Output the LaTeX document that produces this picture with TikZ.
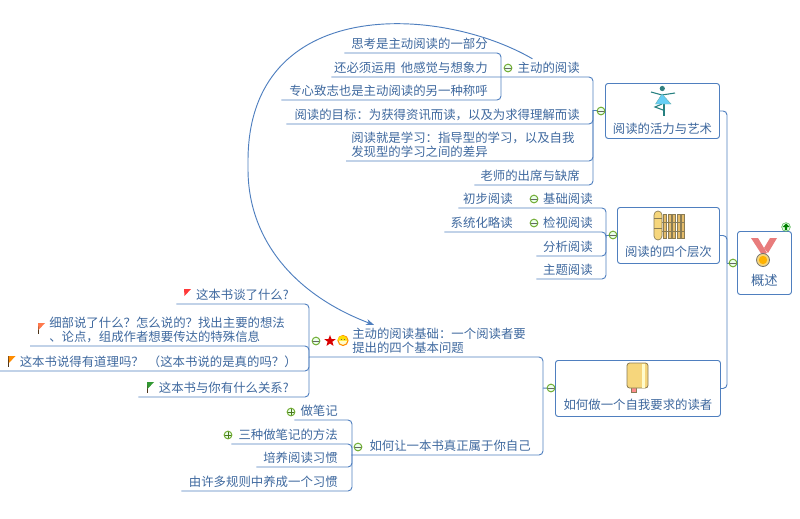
\documentclass[tikz,border=0pt]{standalone}
\usepackage{fontspec}
\usetikzlibrary{calc,arrows.meta,shapes.geometric}
\setmainfont{Noto Sans CJK SC}

\definecolor{linkblue}{HTML}{4F7FBF}
\definecolor{textblue}{HTML}{3E689E}
\definecolor{foldgreen}{HTML}{6AA82A}
\definecolor{iconline}{HTML}{8A7C55}
\definecolor{iconfill}{HTML}{F6D67C}
\definecolor{ribbon}{HTML}{E87C7C}

\tikzset{
  link/.style={draw=linkblue,line width=0.7pt,rounded corners=3pt},
  leaf/.style={font=\fontsize{9.3pt}{10.5pt}\selectfont,text=textblue,inner xsep=0pt,inner ysep=2.3pt,
    align=right,text width=#1*0.75pt,anchor=south east},
  leafleft/.style={leaf=#1,align=left,anchor=south west},
  box/.style={draw=linkblue,line width=0.7pt,rounded corners=2pt,fill=white,anchor=north west,
    font=\fontsize{9.3pt}{10.5pt}\selectfont,text=textblue,inner sep=0pt},
  fold/.style={circle,draw=foldgreen,fill=green!8,line width=0.7pt,inner sep=0pt,minimum size=5.8pt},
  minus/.style={fold,path picture={\draw[black!60,line width=0.5pt]
    (path picture bounding box.west) -- (path picture bounding box.east);}},
  plus/.style={minus,path picture={\draw[foldgreen!70!black,line width=0.6pt]
    (path picture bounding box.west) -- (path picture bounding box.east)
    (path picture bounding box.north) -- (path picture bounding box.south);}},
}

\newcommand{\flagmark}[3]{%
  \draw[black!60!brown,line width=0.6pt] (#1,#2) -- +(0,11);
  \fill[#3] (#1,#2) -- +(7,0) -- +(0.5,7) -- cycle;}

\begin{document}
\begin{tikzpicture}[x=0.75pt,y=-0.75pt]
  \useasboundingbox (0,0) rectangle (800,518);

  % Central topic and main branches
  \node[box,minimum width=40.5pt,text height=40.85pt,text depth=6.4pt,font=\fontsize{10pt}{12pt}\selectfont] (root) at (737,231) {概述};
  \node[box,minimum width=85.5pt,text height=37.25pt,text depth=4pt] (art) at (605,83) {阅读的活力与艺术};
  \node[box,minimum width=76.5pt,text height=37.1pt,text depth=4.9pt] (levels) at (617,207) {阅读的四个层次};
  \node[box,minimum width=123.75pt,text height=37.1pt,text depth=4.9pt] (reader) at (555,360) {如何做一个自我要求的读者};

  % Active reading
  \node[leaf=143] (think) at (488,53) {思考是主动阅读的一部分};
  \node[leaf=156] (sense) at (488,77) {还必须运用\hspace{0.5pt} 他感觉与想象力};
  \node[leaf=206] (focus) at (488,100) {专心致志也是主动阅读的另一种称呼};
  \node[leaf=64] (active) at (580,77) {主动的阅读};
  \node[leaf=293] (goal) at (580,124) {阅读的目标：为获得资讯而读，以及为求得理解而读};
  \node[leafleft=226] (study) at (351,161) {阅读就是学习：指导型的学习，以及自我\\发现型的学习之间的差异};
  \node[leaf=105] (teacher) at (580,185) {老师的出席与缺席};
  \coordinate (tfocus) at (501,77);
  \coordinate (tart) at (593,110);

  \draw[link] (think.south west) -| (tfocus);
  \draw[link] (focus.south west) -| (tfocus);
  \draw[link] (sense.south west) -| (tart);
  \draw[link] (goal.south west) -| (tart);
  \draw[link] ($(study.south west)+(-5,0)$) -| (tart);
  \draw[link] (teacher.south west) -| (tart);
  \draw[link] (tart) -- (tart -| art.west);

  % Four levels
  \node[leaf=54] (inspect1) at (513,208) {初步阅读};
  \node[leaf=52] (basic) at (593,208) {基础阅读};
  \node[leaf=68] (inspect2) at (513,232) {系统化略读};
  \node[leaf=52] (scan) at (593,232) {检视阅读};
  \node[leaf=56] (analyse) at (593,256) {分析阅读};
  \node[leaf=56] (topic) at (593,279) {主题阅读};
  \coordinate (tlevels) at (606,235);

  \draw[link] (inspect1.south west) -| (tlevels);
  \draw[link] (inspect2.south west) -| (tlevels);
  \draw[link] (analyse.south west) -| (tlevels);
  \draw[link] (topic.south west) -| (tlevels);
  \draw[link] (tlevels) -- (levels.west |- tlevels);

  % Four questions
  \node[leaf=112] (what) at (289,304) {这本书谈了什么?};
  \node[leafleft=245] (detail) at (49,346) {细部说了什么？怎么说的？找出主要的想法\\、论点，组成作者想要传达的特殊信息};
  \node[leaf=297] (right) at (297,371) {这本书说得有道理吗？ （这本书说的是真的吗？）};
  \node[leaf=150] (you) at (289,397) {这本书与你有什么关系?};
  \node[leafleft=180] (basis) at (352,357) {主动的阅读基础：一个阅读者要\\提出的四个基本问题};
  \coordinate (tbasis) at (309,357);
  \coordinate (treader) at (543,388);

  \draw[link] (what.south west) -| (tbasis);
  \draw[link] ($(detail.south west)+(-19,0)$) -| (tbasis);
  \draw[link] (right.south west) -| (tbasis);
  \draw[link] (you.south west) -| (tbasis);
  \draw[link] (tbasis) -| (treader);
  \draw[link] (treader) -- (reader.west);

  % Owning a book
  \node[leaf=179] (own) at (531,455) {如何让一本书真正属于你自己};
  \node[leaf=43] (notes) at (338,420) {做笔记};
  \node[leaf=106] (ways) at (338,444) {三种做笔记的方法};
  \node[leaf=81] (habit) at (338,467) {培养阅读习惯};
  \node[leaf=156] (rules) at (338,491) {由许多规则中养成一个习惯};
  \coordinate (town) at (352,455);

  \draw[link] (own.south west) -| (treader);
  \draw[link] (notes.south west) -| (town);
  \draw[link] (ways.south west) -| (town);
  \draw[link] (habit.south west) -| (town);
  \draw[link] (rules.south west) -| (town);

  % Main trunk
  \coordinate (tmain) at (727,263);
  \draw[link] (art.east) -| (tmain);
  \draw[link] (levels.east) -| (tmain);
  \draw[link] (reader.east) -| (tmain);
  \draw[link] (tmain) -- (root.west |- tmain);

  % Relationship
  \coordinate (bend) at (248,165);
  \draw[link,-{Stealth[length=6pt,width=4.5pt]}] ($(active.north west)+(17,0)$)
    .. controls (440,5) and (248,-5) .. (bend)
    .. controls (248,240) and (295,295) .. ($(basis.north west)+(22,0)$);

  % Fold marks
  \node[minus] (m1) at (508,68) {};
  \node[minus] (m2) at (601,111) {};
  \node[minus] (m3) at (534,199) {};
  \node[minus] (m4) at (534,223) {};
  \node[minus] (m5) at (613,235) {};
  \node[minus] (m6) at (733,263) {};
  \node[minus] (m7) at (316,341) {};
  \node[minus] (m8) at (551,388) {};
  \node[minus] (m9) at (358,447) {};
  \node[plus] (p1) at (291,412) {};
  \node[plus] (p2) at (228,435) {};

  % Markers
  \fill[red!70!pink] (184,289) -- (191,289) -- (184.5,296) -- cycle;
  \flagmark{38}{323}{red!50!orange!70}
  \flagmark{8.5}{356}{orange!90!yellow}
  \flagmark{147}{382}{green!50!black!80}
  \node[star,star points=5,star point ratio=2.4,fill=red!85!black,inner sep=0pt,minimum size=9pt] (starmark) at (330,341) {};
  \node[circle,draw=orange!90!yellow,fill=yellow!20,line width=0.8pt,inner sep=0pt,minimum size=7.5pt] (smile) at (343,340.5) {};
  \fill[yellow!80!orange] (smile.west) arc (180:0:3.75pt) -- cycle;
  \draw[black!60,line width=0.4pt] (341,339) -- (342,339) (344,339) -- (345,339);

  % Up marker on the central topic
  \node[circle,draw=green!40!gray,fill=green!10,inner sep=0pt,minimum size=6.5pt] (upmark) at (786,227) {};
  \fill[green!50!black] (786,223.5) -- (789.5,227) -- (787.2,227) -- (787.2,230) -- (784.8,230) -- (784.8,227) -- (782.5,227) -- cycle;

  % Dancer
  \draw[teal!70!gray,line width=0.8pt] (651,92) -- (662,95) -- (675,93);
  \draw[teal!70!gray,line width=0.9pt] (664,104) -- (664,116);
  \draw[teal!70!gray,line width=0.8pt] (662,104) -- (655,107) -- (663,110);
  \fill[cyan!60!white,draw=teal!60,line width=0.3pt] (662,94) -- (671,104) -- (655.5,104) -- cycle;
  \fill[teal!60!gray] (662.3,88.5) circle (2.6);

  % Bars
  \foreach \bx in {665,669.5,674,678.5,683}
    \fill[iconfill!70!brown,draw=iconline,line width=0.3pt] (\bx-1.5,214) rectangle (\bx+1.5,238);
  \draw[iconline,line width=0.4pt] (662,222) -- (685,222) (662,231) -- (685,231);
  \draw[iconline,fill=iconfill,line width=0.5pt,rounded corners=3pt] (654,211) rectangle (662,240);
  \draw[iconline,line width=0.4pt] (654,218) -- (662,218) (654,228) -- (662,228);

  % Medal
  \fill[ribbon] (751,238) -- (758,238) -- (767,253) -- (762,255) -- cycle;
  \fill[ribbon] (777,238) -- (770,238) -- (764,248) -- (768,253) -- cycle;
  \draw[black!55,fill=iconfill,line width=0.6pt] (763,260) circle (6.5);
  \fill[orange!60!yellow] (763,260) circle (4.2);

  % Book
  \fill[red!45!white,draw=iconline,line width=0.3pt] (631,387) rectangle (636,392);
  \draw[iconline,fill=iconfill,line width=0.6pt,rounded corners=2pt] (627,363) rectangle (648,388);
  \fill[yellow!20] (642,364) rectangle (645,387.5);
\end{tikzpicture}
\end{document}
